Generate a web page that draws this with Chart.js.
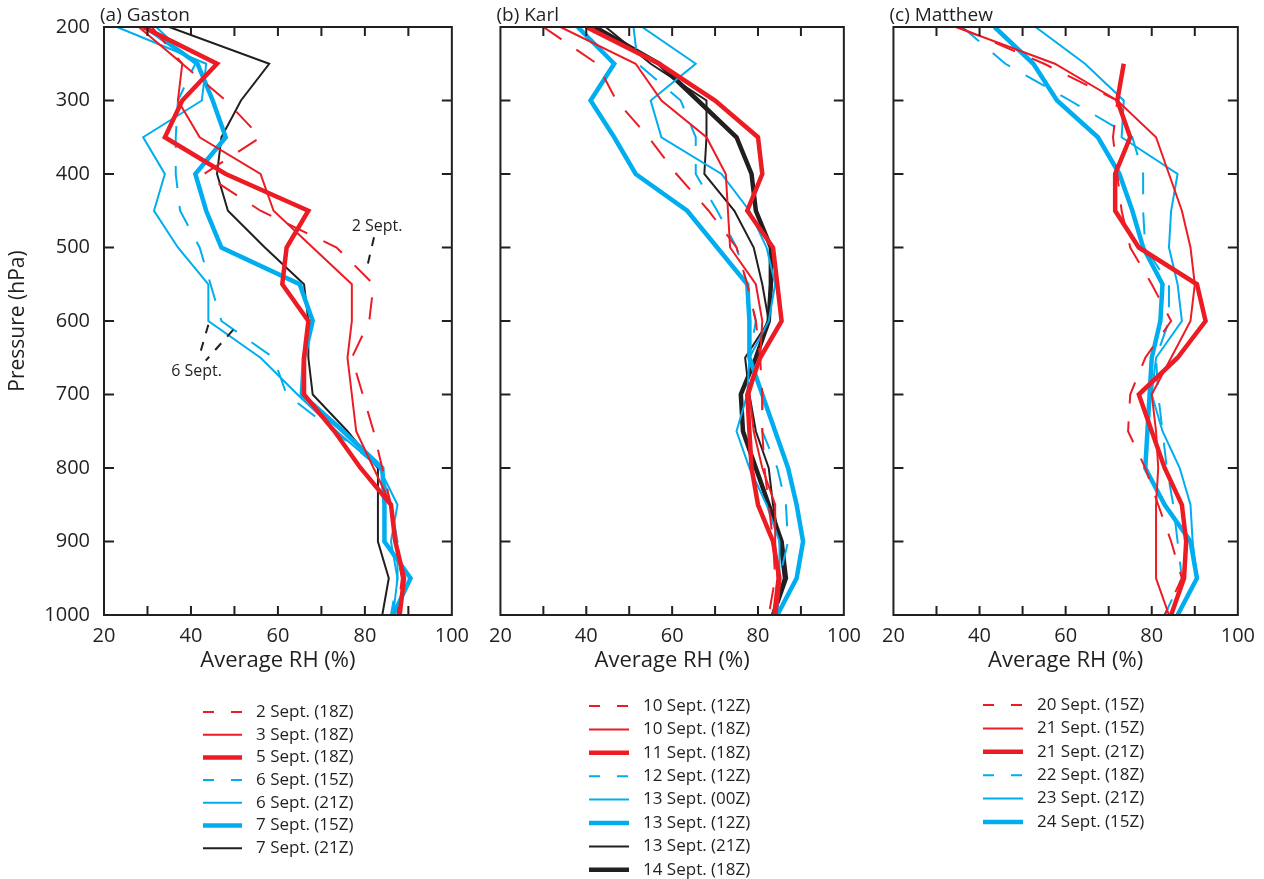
<!DOCTYPE html>
<html>
<head>
<meta charset="utf-8">
<title>Average RH profiles</title>
<script src="https://cdn.jsdelivr.net/npm/chart.js@4.4.1/dist/chart.umd.min.js"></script>
<style>
  body { margin: 0; background: #fff; }
  #wrap { position: relative; width: 1264px; height: 879px; overflow: hidden; }
  canvas { position: absolute; top: 0; }
</style>
</head>
<body>
<div id="wrap">
  <canvas id="chartA" width="478" height="879" style="left:0px"></canvas>
  <canvas id="chartB" width="390" height="879" style="left:480px"></canvas>
  <canvas id="chartC" width="391" height="879" style="left:873px"></canvas>
</div>
<script>
// pressure levels (hPa) shared by every profile, top to bottom
const pressureLevels = [200, 250, 300, 350, 400, 450, 500, 550, 600, 650, 700, 750, 800, 850, 900, 950, 1000];
const rhTickValues = [20, 40, 60, 80, 100];
const pressureTickValues = [200, 300, 400, 500, 600, 700, 800, 900, 1000];

// (a) Gaston
const gastonLabels = ['2 Sept. (18Z)', '3 Sept. (18Z)', '5 Sept. (18Z)', '6 Sept. (15Z)', '6 Sept. (21Z)', '7 Sept. (15Z)', '7 Sept. (21Z)'];
const gaston2Sep18 = [31, 38, 48, 56, 43, 56, 73.5, 82, 81, 77, 79.5, 82, 84, 86, 87, 88.5, 87.5];
const gaston3Sep18 = [28, 38, 37, 42, 56, 59, 68, 77, 77, 76, 77, 78, 82, 86, 87, 89, 88];
const gaston5Sep18 = [29, 46, 38, 34, 48, 67, 62, 61, 67, 66, 66, 73, 79, 86, 87, 89, 88];
const gaston6Sep15 = [32, 41, 37, 36.5, 36.5, 37.5, 42, 44.5, 47, 59, 62, 73, 83.5, 86, 87.5, 87.5, 86];
const gaston6Sep21 = [23, 43.5, 42.5, 29, 34, 31.5, 37, 44, 44, 56, 64.5, 73.5, 83.3, 87.5, 86, 87.5, 86.5];
const gaston7Sep15 = [29.5, 41.5, 45, 48, 41, 43.5, 47, 65, 68, 66, 65.5, 75, 84, 84.5, 84.5, 90.5, 86.5];
const gaston7Sep21 = [35, 58, 51.5, 47, 46, 48.5, 57, 66, 67, 67, 68, 76, 83, 83, 83, 85.5, 84];

// (b) Karl
const karlLabels = ['10 Sept. (12Z)', '10 Sept. (18Z)', '11 Sept. (18Z)', '12 Sept. (12Z)', '13 Sept. (00Z)', '13 Sept. (12Z)', '13 Sept. (21Z)', '14 Sept. (18Z)'];
const karl10Sep12 = [30, 42.5, 47, 54.5, 61, 68.5, 75, 77.5, 79.5, 80.5, 81, 81, 81.5, 82.5, 83.5, 84, 82.5];
const karl10Sep18 = [34, 51.5, 57.5, 68, 72.5, 73, 73.5, 79.5, 81, 80.5, 78, 79, 81, 84, 84, 84.5, 83.5];
const karl11Sep18 = [40, 57, 70, 80, 81, 77.5, 83.5, 84.5, 85.5, 80.5, 77.5, 78, 78.5, 80, 83.5, 85, 84];
const karl12Sep12 = [51, 52, 62, 65.5, 65.5, 70.5, 75, 77.5, 79.5, 78, 81, 81, 84.5, 86.5, 87, 85, 84];
const karl13Sep00 = [53, 65.5, 55, 57.5, 71.5, 78, 82, 84, 82.5, 78, 77.5, 75, 78, 82, 85, 85, 84.5];
const karl13Sep12 = [38, 46.5, 41, 46.5, 51.5, 63.5, 70.5, 77.5, 78, 78, 81, 84, 87, 89, 90.5, 89, 84.5];
const karl13Sep21 = [44.5, 55, 68, 68, 67.5, 74.5, 79, 81, 82.5, 77, 78, 79.5, 82.5, 83.5, 85, 86, 83.5];
const karl14Sep18 = [42, 57, 66, 75, 78.5, 79.5, 83, 83, 82.5, 79.5, 76, 76.5, 79.5, 82.5, 85.5, 86.5, 83.5];

// (c) Matthew
const matthewLabels = ['20 Sept. (15Z)', '21 Sept. (15Z)', '21 Sept. (21Z)', '22 Sept. (18Z)', '23 Sept. (21Z)', '24 Sept. (15Z)'];
const matthew20Sep15 = [35, 55, 72, 71, 72, 73, 75, 80, 84.5, 78.5, 75, 74.5, 78.5, 81.5, 84.5, 87, 83];
const matthew21Sep15 = [34.5, 57.5, 72, 81, 84, 87, 89, 90, 89, 84.5, 80, 81, 81.5, 81, 81, 81, 84];
const matthew21Sep21 = [null, 73.5, 72, 75, 71.5, 71.5, 77, 90.5, 92.5, 86, 77, 80, 83, 87, 88, 87.5, 84.5];
const matthew22Sep18 = [36, 46, 61, 75.5, 78, 78, 78.5, 84, 84, 81, 81.5, 82.5, 83.5, 85, 86, 87, 83];
const matthew23Sep21 = [53, 64.5, 73.5, 73, 86, 84.5, 84, 86, 87, 81, 80, 82.5, 86.5, 89, 89.5, 90.5, 86];
const matthew24Sep15 = [43.5, 52.5, 58, 67.5, 72.5, 75.5, 78, 82.5, 82, 80, 79.5, 79, 78.5, 83, 89, 90.5, 86];

// callouts in panel (a), in data units (RH %, hPa)
const gastonNotes = [
  { text: '2 Sept.', x: 82.8, p: 472, leaders: [[82.1, 486, 80.5, 527]] },
  { text: '6 Sept.', x: 41.3, p: 668, leaders: [[44.0, 605, 42.0, 646], [49.7, 612, 43.4, 654]] }
];

const RED = '#ed1c24', BLUE = '#00aeef', BLACK = '#231f20';
const FONT = "'Open Sans', 'Noto Sans', sans-serif";
const lineStyles = {
  redDash:    { color: RED, width: 2, dash: [22, 18] },
  redThin:    { color: RED, width: 2, dash: [] },
  redThick:   { color: RED, width: 4.5, dash: [] },
  blueDash:   { color: BLUE, width: 2, dash: [22, 18] },
  blueThin:   { color: BLUE, width: 2, dash: [] },
  blueThick:  { color: BLUE, width: 4.5, dash: [] },
  blackThin:  { color: BLACK, width: 2, dash: [] },
  blackThick: { color: BLACK, width: 4.5, dash: [] }
};

Chart.defaults.font.family = FONT;
Chart.defaults.color = BLACK;

function makeDataset(label, values, styleKey) {
  const st = lineStyles[styleKey];
  const pts = [];
  values.forEach((v, i) => { if (v != null) pts.push({ x: v, y: pressureLevels[i] }); });
  return {
    label: label,
    data: pts,
    showLine: true,
    borderColor: st.color,
    backgroundColor: st.color,
    borderWidth: st.width,
    borderDash: st.dash,
    borderJoinStyle: 'miter',
    pointRadius: 0,
    pointHoverRadius: 0,
    tension: 0
  };
}

// frame with inward ticks, panel title, legend list and callouts
const profileFrame = {
  id: 'profileFrame',
  afterDatasetsDraw(chart) {
    const { ctx, chartArea: a, scales: { x, y } } = chart;
    ctx.save();
    ctx.strokeStyle = BLACK;
    ctx.lineWidth = 2;
    ctx.setLineDash([]);
    ctx.beginPath();
    for (let v = 30; v < 100; v += 10) {
      const px = x.getPixelForValue(v);
      ctx.moveTo(px, a.top); ctx.lineTo(px, a.top + 9);
      ctx.moveTo(px, a.bottom); ctx.lineTo(px, a.bottom - 9);
    }
    pressureTickValues.slice(1, -1).forEach(p => {
      const py = y.getPixelForValue(p);
      ctx.moveTo(a.left, py); ctx.lineTo(a.left + 10, py);
      ctx.moveTo(a.right, py); ctx.lineTo(a.right - 10, py);
    });
    ctx.stroke();
    ctx.strokeRect(a.left, a.top, a.right - a.left, a.bottom - a.top);
    ctx.restore();
  },
  afterDraw(chart, args, opts) {
    const { ctx, chartArea: a, scales: { x, y } } = chart;
    ctx.save();
    // panel title
    ctx.fillStyle = BLACK;
    ctx.font = '19px ' + FONT;
    ctx.textAlign = 'left';
    ctx.textBaseline = 'alphabetic';
    ctx.fillText(opts.title, a.left - 4, a.top - 6);

    // legend, one entry per row
    const lg = opts.legend;
    ctx.font = '17px ' + FONT;
    ctx.textBaseline = 'middle';
    chart.data.datasets.forEach((ds, i) => {
      const ly = lg.top + i * lg.gap;
      ctx.beginPath();
      ctx.strokeStyle = ds.borderColor;
      ctx.lineWidth = ds.borderWidth;
      ctx.setLineDash(ds.borderDash.length ? [11, 17] : []);
      ctx.moveTo(lg.x0, ly);
      ctx.lineTo(lg.x1, ly);
      ctx.stroke();
      ctx.fillStyle = BLACK;
      ctx.fillText(ds.label, lg.textX, ly);
    });

    // callouts
    (opts.notes || []).forEach(n => {
      ctx.fillStyle = BLACK;
      ctx.font = '16px ' + FONT;
      ctx.textAlign = 'center';
      ctx.fillText(n.text, x.getPixelForValue(n.x), y.getPixelForValue(n.p));
      ctx.strokeStyle = BLACK;
      ctx.lineWidth = 2;
      ctx.setLineDash([9, 9]);
      n.leaders.forEach(l => {
        ctx.beginPath();
        ctx.moveTo(x.getPixelForValue(l[0]), y.getPixelForValue(l[1]));
        ctx.lineTo(x.getPixelForValue(l[2]), y.getPixelForValue(l[3]));
        ctx.stroke();
      });
    });
    ctx.restore();
  }
};

function makePanel(canvasId, cfg) {
  return new Chart(document.getElementById(canvasId), {
    type: 'scatter',
    data: { datasets: cfg.series.map((vals, i) => makeDataset(cfg.labels[i], vals, cfg.styles[i])) },
    options: {
      responsive: false,
      animation: false,
      events: [],
      layout: { padding: cfg.padding },
      plugins: {
        legend: { display: false },
        tooltip: { enabled: false },
        profileFrame: { title: cfg.title, legend: cfg.legend, notes: cfg.notes }
      },
      scales: {
        x: {
          type: 'linear',
          min: 20,
          max: 100,
          afterBuildTicks: s => { s.ticks = rhTickValues.map(v => ({ value: v })); },
          afterFit: s => { s.height = 60; },
          grid: { display: false, drawTicks: false },
          border: { display: false },
          ticks: { padding: 9, font: { size: 20 }, color: BLACK, callback: v => String(v) },
          title: { display: true, text: 'Average RH (%)', font: { size: 22 }, color: BLACK, padding: { top: 0, bottom: 1 } }
        },
        y: {
          type: 'linear',
          reverse: true,
          min: 200,
          max: 1000,
          display: cfg.showY,
          afterBuildTicks: s => { s.ticks = pressureTickValues.map(v => ({ value: v })); },
          afterFit: s => { if (cfg.showY) s.width = 104; },
          grid: { display: false, drawTicks: false },
          border: { display: false },
          ticks: { padding: 14, font: { size: 20 }, color: BLACK, callback: v => String(v) },
          title: { display: true, text: 'Pressure (hPa)', font: { size: 21 }, color: BLACK, padding: { top: 5, bottom: 0 } }
        }
      }
    },
    plugins: [profileFrame]
  });
}

makePanel('chartA', {
  title: '(a) Gaston',
  labels: gastonLabels,
  series: [gaston2Sep18, gaston3Sep18, gaston5Sep18, gaston6Sep15, gaston6Sep21, gaston7Sep15, gaston7Sep21],
  styles: ['redDash', 'redThin', 'redThick', 'blueDash', 'blueThin', 'blueThick', 'blackThin'],
  showY: true,
  padding: { left: 0, top: 27, right: 21, bottom: 204 },
  legend: { x0: 203, x1: 242, textX: 256, top: 712, gap: 22.7 },
  notes: gastonNotes
});

makePanel('chartB', {
  title: '(b) Karl',
  labels: karlLabels,
  series: [karl10Sep12, karl10Sep18, karl11Sep18, karl12Sep12, karl13Sep00, karl13Sep12, karl13Sep21, karl14Sep18],
  styles: ['redDash', 'redThin', 'redThick', 'blueDash', 'blueThin', 'blueThick', 'blackThin', 'blackThick'],
  showY: false,
  padding: { left: 15, top: 27, right: 22, bottom: 204 },
  legend: { x0: 109, x1: 149, textX: 163, top: 706, gap: 23.4 }
});

makePanel('chartC', {
  title: '(c) Matthew',
  labels: matthewLabels,
  series: [matthew20Sep15, matthew21Sep15, matthew21Sep21, matthew22Sep18, matthew23Sep21, matthew24Sep15],
  styles: ['redDash', 'redThin', 'redThick', 'blueDash', 'blueThin', 'blueThick'],
  showY: false,
  padding: { left: 15, top: 27, right: 23, bottom: 204 },
  legend: { x0: 110, x1: 150, textX: 164, top: 705, gap: 23.4 }
});
</script>
</body>
</html>
